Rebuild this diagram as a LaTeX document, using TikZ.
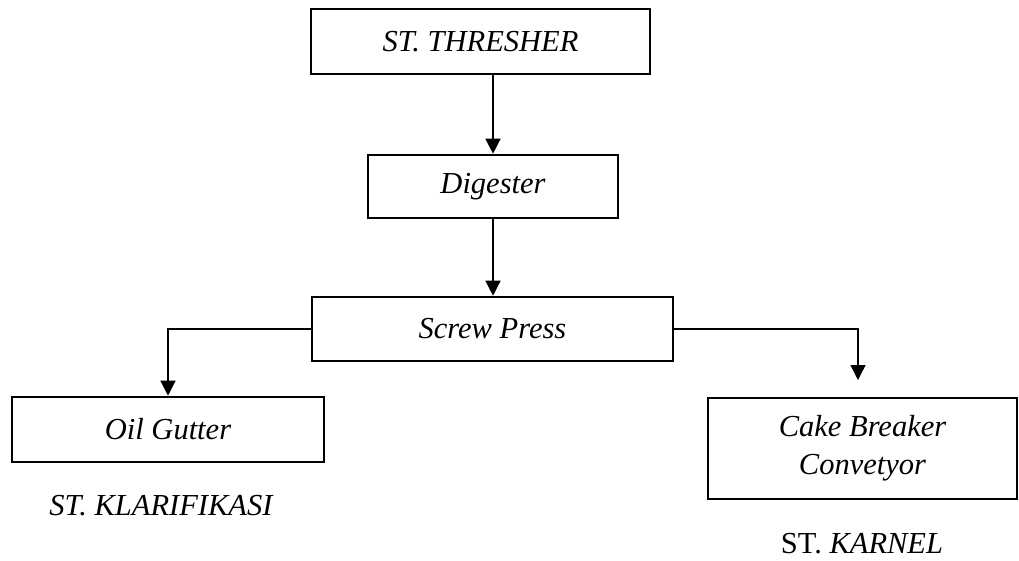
\documentclass[tikz,border=0pt]{standalone}
\usepackage{fontspec}
\setmainfont{Liberation Serif}
\usetikzlibrary{arrows.meta}
\begin{document}
\begin{tikzpicture}[x=1pt,y=-1pt,
  box/.style={draw, line width=2.6pt, inner sep=0pt, align=center,
    font=\fontsize{30.5}{38}\selectfont\itshape},
  flow/.style={line width=1.3pt, -{Triangle[length=15pt,width=15pt]}},
  caption/.style={inner sep=0pt, font=\fontsize{30.5}{38}\selectfont}]
  \useasboundingbox (0,0) rectangle (1019,560);

  % process boxes
  \node[box, minimum width=339pt, minimum height=65pt] (thresher) at (480.5,41.5) {ST. THRESHER};
  \node[box, minimum width=250pt, minimum height=63pt] (digester) at (493,186.5) {Digester};
  \node[box, minimum width=361pt, minimum height=64pt] (press) at (492.5,329) {Screw Press};
  \node[box, minimum width=312pt, minimum height=65pt] (oil) at (168,429.5) {Oil Gutter};
  \node[box, minimum width=309pt, minimum height=101pt] (cake) at (862.5,448.5) {Cake Breaker\\Convetyor};

  % station captions
  \node[caption] (klar) at (161,506) {\itshape ST. KLARIFIKASI};
  \node[caption] (karnel) at (862,544) {ST. \textit{KARNEL}};

  % connectors
  \coordinate (cakein) at (858,380);
  \draw[flow] (digester.north |- thresher.south) -- (digester.north);
  \draw[flow] (digester.south) -- (digester.south |- press.north);
  \draw[flow] (press.west) -| (oil.north);
  \draw[flow] (press.east) -| (cakein);
\end{tikzpicture}
\end{document}
